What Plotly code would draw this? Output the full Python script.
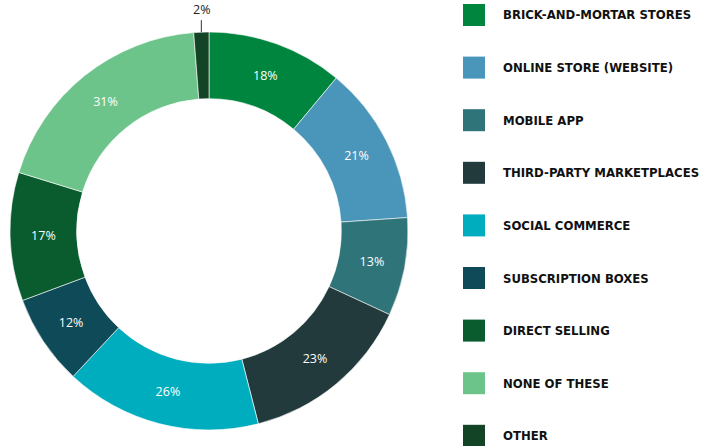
import math
import plotly.graph_objects as go

labels = ["BRICK-AND-MORTAR STORES", "ONLINE STORE (WEBSITE)", "MOBILE APP",
          "THIRD-PARTY MARKETPLACES", "SOCIAL COMMERCE", "SUBSCRIPTION BOXES",
          "DIRECT SELLING", "NONE OF THESE", "OTHER"]
values = [18, 21, 13, 23, 26, 12, 17, 31, 2]
colors = ["#00853E", "#4A96BA", "#2E7479", "#223A3B", "#00ADBE", "#0E4A57",
          "#0A5C2F", "#6DC48A", "#124425"]

W, H = 710, 446
cx, cy, R = 209, 231, 199

small = [v < 5 for v in values]
textpos = ["none" if s else "inside" for s in small]

fig = go.Figure(go.Pie(
    labels=labels, values=values, sort=False, direction="clockwise", rotation=0,
    hole=0.665,
    marker=dict(colors=colors, line=dict(color="white", width=0.6)),
    texttemplate="%{value}%", textposition=textpos,
    insidetextorientation="horizontal",
    insidetextfont=dict(family="Open Sans", size=12.5, color="white"),
    showlegend=False, hoverinfo="label+value",
    domain=dict(x=[(cx - R) / W, (cx + R) / W], y=[1 - (cy + R) / H, 1 - (cy - R) / H]),
))

shapes, annos = [], []
total = sum(values)
cum = 0
for v, s in zip(values, small):
    if s:
        a = 2 * math.pi * (cum + v / 2) / total
        px = cx + R * math.sin(a)
        py = cy - R * math.cos(a)
        annos.append(dict(xref="paper", yref="paper", x=px / W, y=1 - py / H,
                          ax=0, ay=-12, showarrow=True, arrowhead=0, arrowwidth=1,
                          arrowcolor="#333333", text=f"{v}%", yanchor="bottom",
                          font=dict(family="Open Sans", size=12.5, color="#222222")))
    cum += v

for i, (lab, col) in enumerate(zip(labels, colors)):
    top = 4 + i * 52.6
    shapes.append(dict(type="rect", xref="paper", yref="paper",
                       x0=463 / W, x1=485 / W, y0=1 - (top + 22) / H, y1=1 - top / H,
                       fillcolor=col, line=dict(width=0)))
    annos.append(dict(xref="paper", yref="paper", x=501 / W, y=1 - (top + 11) / H,
                      xanchor="left", yanchor="middle", showarrow=False,
                      text="<b>" + lab + "</b>",
                      font=dict(family="DejaVu Sans Condensed", size=13, color="#111111")))

fig.update_layout(width=W, height=H, margin=dict(l=0, r=0, t=0, b=0),
                  paper_bgcolor="white", plot_bgcolor="white",
                  shapes=shapes, annotations=annos)
fig.write_html("out.html", config={"displayModeBar": False},
               post_script="document.body.style.margin='0';")
